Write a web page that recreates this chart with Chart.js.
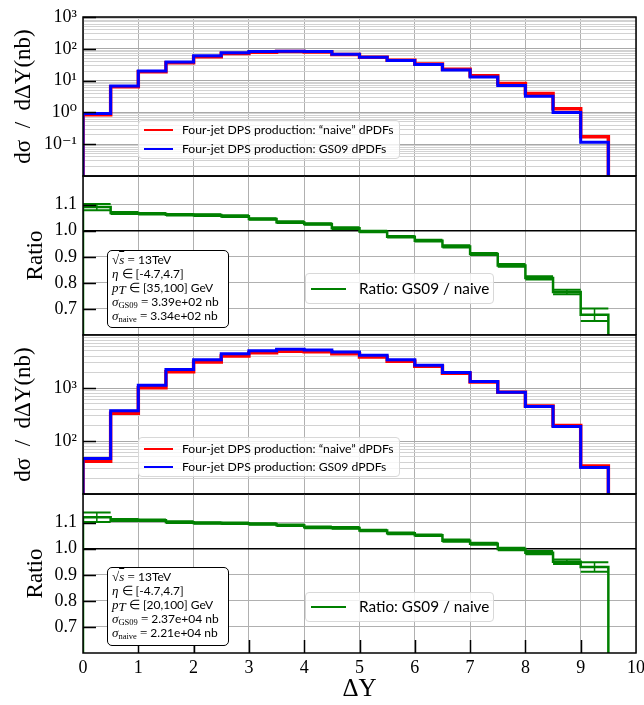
<!DOCTYPE html>
<html>
<head>
<meta charset="utf-8">
<script src="https://cdn.jsdelivr.net/npm/chart.js@4"></script>
<style>
  body { margin: 0; background: #fff; width: 644px; height: 705px; position: relative; overflow: hidden; }
  canvas { position: absolute; left: 0; }
  .lg { position: absolute; background: rgba(255,255,255,0.8); border: 1px solid #d8d8d8; border-radius: 4px; box-sizing: border-box; }
  .lg .sw { position: absolute; height: 2px; }
  .lg .tx { position: absolute; white-space: nowrap; font-family: Lato, "Liberation Sans", sans-serif; line-height: 1; color: #000; }
  .info { position: absolute; background: #fff; border: 1px solid #000; border-radius: 5px; box-sizing: border-box;
          padding: 2px 0 0 4px; font-family: Lato, "Liberation Sans", sans-serif; font-size: 12px; line-height: 14px; color: #000; white-space: nowrap; }
  .info i, .info .rm { font-family: "Liberation Serif", serif; font-size: 13px; }
  .info sub { font-family: "Liberation Serif", serif; font-size: 8.5px; vertical-align: -2px; line-height: 0; font-style: normal; }
  .ov { text-decoration: overline; }
</style>
</head>
<body>
<canvas id="c1" width="644" height="183" style="top:5px"></canvas>
<canvas id="c2" width="644" height="183" style="top:164px"></canvas>
<canvas id="c3" width="644" height="183" style="top:323px"></canvas>
<canvas id="c4" width="644" height="223" style="top:482px"></canvas>

<div class="lg" style="left:138px;top:120px;width:262px;height:39px">
  <div class="sw" style="left:5px;top:8px;width:29px;background:#ff0000"></div>
  <div class="tx" style="left:43px;top:3px;font-size:12.2px">Four-jet DPS production: “naive” dPDFs</div>
  <div class="sw" style="left:5px;top:27px;width:29px;background:#0000ff"></div>
  <div class="tx" style="left:43px;top:22px;font-size:12.2px">Four-jet DPS production: GS09 dPDFs</div>
</div>
<div class="lg" style="left:305px;top:273px;width:189px;height:31px">
  <div class="sw" style="left:5px;top:14px;width:35px;background:#008000"></div>
  <div class="tx" style="left:53px;top:7px;font-size:15.3px">Ratio: GS09 / naive</div>
</div>
<div class="lg" style="left:138px;top:437px;width:262px;height:40px">
  <div class="sw" style="left:5px;top:10px;width:29px;background:#ff0000"></div>
  <div class="tx" style="left:43px;top:5px;font-size:12.2px">Four-jet DPS production: “naive” dPDFs</div>
  <div class="sw" style="left:5px;top:28px;width:29px;background:#0000ff"></div>
  <div class="tx" style="left:43px;top:23px;font-size:12.2px">Four-jet DPS production: GS09 dPDFs</div>
</div>
<div class="lg" style="left:305px;top:592px;width:189px;height:30px">
  <div class="sw" style="left:5px;top:13px;width:35px;background:#008000"></div>
  <div class="tx" style="left:53px;top:6px;font-size:15.3px">Ratio: GS09 / naive</div>
</div>

<div class="info" style="left:107px;top:250px;width:122px;height:78px">
  <div><span class="rm">√<span class="ov"><i>s</i></span> = </span>13TeV</div>
  <div><i>η</i> <span class="rm">∈</span> [-4.7,4.7]</div>
  <div><i>p</i><sub><i>T</i></sub> <span class="rm">∈</span> [35,100] GeV</div>
  <div><i>σ</i><sub>GS09</sub> <span class="rm">=</span> 3.39e+02 nb</div>
  <div><i>σ</i><sub>naive</sub> <span class="rm">=</span> 3.34e+02 nb</div>
</div>
<div class="info" style="left:107px;top:567px;width:122px;height:79px">
  <div><span class="rm">√<span class="ov"><i>s</i></span> = </span>13TeV</div>
  <div><i>η</i> <span class="rm">∈</span> [-4.7,4.7]</div>
  <div><i>p</i><sub><i>T</i></sub> <span class="rm">∈</span> [20,100] GeV</div>
  <div><i>σ</i><sub>GS09</sub> <span class="rm">=</span> 2.37e+04 nb</div>
  <div><i>σ</i><sub>naive</sub> <span class="rm">=</span> 2.21e+04 nb</div>
</div>

<script>
// bin lower edges in ΔY, 0.5 wide
const binEdges = [0, 0.5, 1, 1.5, 2, 2.5, 3, 3.5, 4, 4.5, 5, 5.5, 6, 6.5, 7, 7.5, 8, 8.5, 9, 9.5];
const xTickValues = [0, 1, 2, 3, 4, 5, 6, 7, 8, 9, 10];

// pT in [35,100] GeV, dσ/dΔY in nb
const gs09Hard = [0.93, 6.8, 20.2, 38.7, 60, 75, 82, 84.5, 82, 67, 54, 42.5, 31.8, 21.5, 13.0, 7.0, 3.2, 1.0, 0.115];
const naiveHard = [0.85, 6.37, 19.0, 36.5, 56.6, 71.0, 78.5, 81.8, 79.9, 66.3, 54.2, 43.5, 33.1, 22.9, 14.3, 8.07, 3.91, 1.31, 0.17];
const ratioHard = [1.091, 1.068, 1.065, 1.061, 1.060, 1.056, 1.045, 1.033, 1.026, 1.010, 0.997, 0.977, 0.962, 0.940, 0.911, 0.867, 0.819, 0.765, 0.678];
const ratioHardErr = [0.012, 0.004, 0.003, 0.003, 0.003, 0.003, 0.003, 0.003, 0.003, 0.003, 0.003, 0.003, 0.003, 0.004, 0.004, 0.005, 0.006, 0.009, 0.024];

// pT in [20,100] GeV
const gs09Soft = [46.7, 372, 1125, 2240, 3400, 4430, 5040, 5370, 5210, 4780, 4130, 3400, 2700, 1960, 1320, 828, 449, 187, 31.5];
const naiveSoft = [41.7, 335, 1014, 2033, 3094, 4035, 4603, 4927, 4815, 4426, 3860, 3211, 2567, 1901, 1295, 829, 456, 197, 33.9];
const ratioSoft = [1.121, 1.110, 1.109, 1.102, 1.099, 1.098, 1.095, 1.090, 1.082, 1.080, 1.070, 1.059, 1.052, 1.031, 1.019, 0.999, 0.985, 0.950, 0.930];
const ratioSoftErr = [0.018, 0.004, 0.003, 0.003, 0.003, 0.003, 0.003, 0.003, 0.003, 0.003, 0.003, 0.003, 0.003, 0.004, 0.004, 0.005, 0.006, 0.009, 0.018];

const ratioTicks = [0.7, 0.8, 0.9, 1.0, 1.1];
const SERIF = "'Liberation Serif', 'DejaVu Serif', serif";
const BIN_W = 0.5;

// histogram outline, dropping to the axis floor at both ends
function stepLine(vals, floor) {
  const pts = [{x: binEdges[0], y: floor}];
  vals.forEach((v, i) => {
    pts.push({x: binEdges[i], y: v});
    pts.push({x: binEdges[i] + BIN_W, y: v});
  });
  pts.push({x: binEdges[vals.length - 1] + BIN_W, y: floor});
  return pts;
}

// horizontal segment per bin at value +/- error
function errLine(vals, errs, sign) {
  const pts = [];
  vals.forEach((v, i) => {
    pts.push({x: binEdges[i], y: v + sign * errs[i]});
    pts.push({x: binEdges[i] + BIN_W, y: v + sign * errs[i]});
    pts.push({x: binEdges[i] + BIN_W, y: null});
  });
  return pts;
}

function errBars(vals, errs) {
  const pts = [];
  vals.forEach((v, i) => {
    const c = binEdges[i] + BIN_W / 2;
    pts.push({x: c, y: v - errs[i]}, {x: c, y: v + errs[i]}, {x: c, y: null});
  });
  return pts;
}

function logGrid(lo, hi) {
  const out = [];
  for (let e = lo; e < hi; e++) {
    for (let m = 1; m < 10; m++) out.push(m * Math.pow(10, e));
  }
  out.push(Math.pow(10, hi));
  return out;
}

function isDecade(v) {
  const l = Math.log10(v);
  return Math.abs(l - Math.round(l)) < 1e-9;
}

const SUP = {'-': '⁻', '0': '⁰', '1': '¹', '2': '²', '3': '³', '4': '⁴'};
function powLabel(v) {
  const e = Math.round(Math.log10(v));
  return '10' + String(e).split('').map(c => SUP[c]).join('');
}

// black frame plus inward major ticks
const framePlugin = {
  id: 'frame',
  afterDatasetsDraw(chart, args, opts) {
    const {ctx, chartArea: a, scales} = chart;
    ctx.save();
    ctx.strokeStyle = '#000';
    ctx.lineWidth = 1.5;
    (opts.yTicks || []).forEach(v => {
      const y = Math.round(scales.y.getPixelForValue(v)) + 0.5;
      ctx.beginPath();
      ctx.moveTo(a.left, y);
      ctx.lineTo(a.left + 13, y);
      ctx.stroke();
    });
    (opts.xTicks || []).forEach(v => {
      const x = Math.round(scales.x.getPixelForValue(v)) + 0.5;
      ctx.beginPath();
      ctx.moveTo(x, a.bottom);
      ctx.lineTo(x, a.bottom - 13);
      ctx.stroke();
    });
    ctx.strokeRect(a.left, a.top, a.right - a.left, a.bottom - a.top);
    ctx.restore();
  }
};

function makePanel(id, cfg) {
  const bottom = !!cfg.bottom;
  return new Chart(document.getElementById(id), {
    type: 'line',
    data: {datasets: cfg.datasets},
    options: {
      responsive: false,
      animation: false,
      events: [],
      layout: {padding: {left: 0, right: 8, top: 12, bottom: bottom ? 0 : 12}},
      elements: {
        point: {radius: 0},
        line: {tension: 0, borderJoinStyle: 'miter', borderCapStyle: 'butt', fill: false}
      },
      plugins: {
        legend: {display: false},
        tooltip: {enabled: false},
        frame: {yTicks: cfg.yMajor, xTicks: bottom ? xTickValues.slice(1, -1) : []}
      },
      scales: {
        x: {
          type: 'linear', min: 0, max: 10,
          afterBuildTicks: s => { s.ticks = xTickValues.map(v => ({value: v})); },
          afterFit: s => { s.height = bottom ? 52 : 0; s.paddingLeft = 0; s.paddingRight = 0; },
          grid: {color: '#b0b0b0', lineWidth: 1, drawTicks: false},
          border: {display: false},
          ticks: {display: bottom, autoSkip: false, maxRotation: 0, padding: 4, color: '#000',
                  font: {family: SERIF, size: 18}},
          title: {display: bottom, text: 'ΔY', color: '#000', font: {family: SERIF, size: 25},
                  padding: {top: 0, bottom: 1}}
        },
        y: Object.assign({
          afterFit: s => { s.width = 83; s.paddingTop = 0; s.paddingBottom = 0; },
          border: {display: false},
          title: {display: true, text: cfg.yTitle, color: '#000', font: {family: SERIF, size: 23},
                  padding: {top: cfg.titlePad, bottom: 0}}
        }, cfg.y)
      }
    },
    plugins: [framePlugin]
  });
}

function histPanel(id, gs09, naive, lo, hi, labelled) {
  const floor = Math.pow(10, lo);
  return makePanel(id, {
    yTitle: 'dσ  /  dΔY(nb)',
    titlePad: 10,
    yMajor: labelled.map(e => Math.pow(10, e)),
    datasets: [
      {data: stepLine(gs09, floor), borderColor: '#0000ff', borderWidth: 3},
      {data: stepLine(naive, floor), borderColor: '#ff0000', borderWidth: 3.5}
    ],
    y: {
      type: 'logarithmic', min: floor, max: Math.pow(10, hi),
      afterBuildTicks: s => { s.ticks = logGrid(lo, hi).map(v => ({value: v})); },
      grid: {color: c => isDecade(c.tick.value) ? '#a8a8a8' : '#d2d2d2', lineWidth: 1, drawTicks: false},
      ticks: {autoSkip: false, padding: 6, color: '#000', font: {family: SERIF, size: 18},
              callback: v => (isDecade(v) && labelled.includes(Math.round(Math.log10(v)))) ? powLabel(v) : ''}
    }
  });
}

function ratioPanel(id, ratio, err, bottom) {
  return makePanel(id, {
    yTitle: 'Ratio',
    titlePad: 22,
    bottom: bottom,
    yMajor: ratioTicks,
    datasets: [
      {data: stepLine(ratio, 0.6), borderColor: '#008000', borderWidth: 2.5},
      {data: errLine(ratio, err, 1), borderColor: '#008000', borderWidth: 2},
      {data: errLine(ratio, err, -1), borderColor: '#008000', borderWidth: 2},
      {data: errBars(ratio, err), borderColor: '#008000', borderWidth: 1.5}
    ],
    y: {
      type: 'linear', min: 0.6, max: 1.21,
      afterBuildTicks: s => { s.ticks = ratioTicks.map(v => ({value: v})); },
      grid: {color: c => c.tick.value === 1.0 ? '#000' : '#b0b0b0',
             lineWidth: c => c.tick.value === 1.0 ? 1.5 : 1, drawTicks: false},
      ticks: {autoSkip: false, padding: 6, color: '#000', font: {family: SERIF, size: 18},
              callback: v => v.toFixed(1)}
    }
  });
}

histPanel('c1', gs09Hard, naiveHard, -2, 3, [-1, 0, 1, 2, 3]);
ratioPanel('c2', ratioHard, ratioHardErr, false);
histPanel('c3', gs09Soft, naiveSoft, 1, 4, [2, 3]);
ratioPanel('c4', ratioSoft, ratioSoftErr, true);
</script>
</body>
</html>
